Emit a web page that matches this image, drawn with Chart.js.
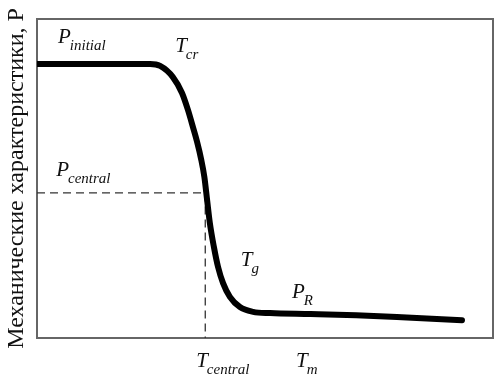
<!DOCTYPE html>
<html>
<head>
<meta charset="utf-8">
<script src="https://cdn.jsdelivr.net/npm/chart.js@4/dist/chart.umd.min.js"></script>
<style>
  html, body { margin: 0; padding: 0; background: #fff; }
  #wrap { width: 498px; height: 379px; }
</style>
</head>
<body>
<div id="wrap"><canvas id="myChart" width="498" height="379"></canvas></div>
<script>
// curve (temperature in arbitrary units, property in arbitrary units)
const curveT = [0, 12, 24.8, 27.0, 29.8, 31.8, 33.1, 34.2, 35.1, 36.0, 36.7, 37.3, 37.9, 38.8, 39.7, 40.8, 42.3, 44.5, 47.4, 51.1, 60, 70, 80, 93.2];
const curveP = [85.9, 85.9, 85.9, 85.3, 81.8, 76.8, 71.5, 66.1, 61.5, 56.0, 50.5, 43.3, 36.1, 28.5, 22.3, 17.2, 12.9, 9.7, 8.2, 7.8, 7.5, 7.1, 6.5, 5.6];

// central point guides
const tCentral = 36.9;
const pCentral = 45.5;

// labels: main letter, subscript, anchor (data coords)
const labelMain = ["P", "T", "P", "T", "P", "T", "T"];
const labelSub = ["initial", "cr", "central", "g", "R", "central", "m"];
const labelT = [4.6, 30.3, 4.2, 44.7, 55.9, 34.9, 56.8];
const labelP = [92.5, 89.7, 50.8, 22.6, 12.5, -9.1, -9.1];

const yTitle = "Механические характеристики, P";

const curveData = curveT.map((t, i) => ({ x: t, y: curveP[i] }));
const guideData = [
  { x: 0, y: pCentral },
  { x: tCentral, y: pCentral },
  { x: tCentral, y: 0 },
];

const extras = {
  id: "extras",
  beforeDatasetsDraw(chart) {
    const { ctx, chartArea: a } = chart;
    ctx.save();
    ctx.strokeStyle = "#666";
    ctx.lineWidth = 2;
    ctx.strokeRect(a.left, a.top, a.right - a.left, a.bottom - a.top);
    ctx.restore();
  },
  afterDatasetsDraw(chart) {
    const { ctx, scales } = chart;
    ctx.save();
    ctx.fillStyle = "#111";
    ctx.textBaseline = "alphabetic";
    ctx.textAlign = "left";
    labelMain.forEach((m, i) => {
      const px = scales.x.getPixelForValue(labelT[i]);
      const py = scales.y.getPixelForValue(labelP[i]);
      ctx.font = "italic 21px 'Liberation Serif', serif";
      ctx.fillText(m, px, py);
      const w = ctx.measureText(m).width;
      ctx.font = "italic 15px 'Liberation Serif', serif";
      ctx.fillText(labelSub[i], px + w - 1, py + 7);
    });
    ctx.restore();
  },
};

new Chart(document.getElementById("myChart"), {
  type: "line",
  data: {
    datasets: [
      {
        data: curveData,
        borderColor: "#000",
        borderWidth: 6,
        pointRadius: 0,
        cubicInterpolationMode: "monotone",
        borderCapStyle: "round",
        fill: false,
      },
      {
        data: guideData,
        borderColor: "#333",
        borderWidth: 1.3,
        borderDash: [8, 5],
        pointRadius: 0,
        tension: 0,
        fill: false,
      },
    ],
  },
  options: {
    responsive: false,
    animation: false,
    layout: { padding: { top: 19, right: 5, left: 0, bottom: 0 } },
    plugins: { legend: { display: false }, tooltip: { enabled: false } },
    scales: {
      x: {
        type: "linear",
        min: 0,
        max: 100,
        grid: { display: false },
        border: { display: false },
        ticks: { display: false },
        afterFit: (s) => { s.height = 41; },
      },
      y: {
        min: 0,
        max: 100,
        grid: { display: false },
        border: { display: false },
        ticks: { display: false },
        title: {
          display: true,
          text: yTitle,
          color: "#111",
          font: { family: "'Liberation Serif', serif", size: 24 },
          padding: { top: 2, bottom: 0 },
        },
        afterFit: (s) => { s.width = 37; },
      },
    },
  },
  plugins: [extras],
});
</script>
</body>
</html>
